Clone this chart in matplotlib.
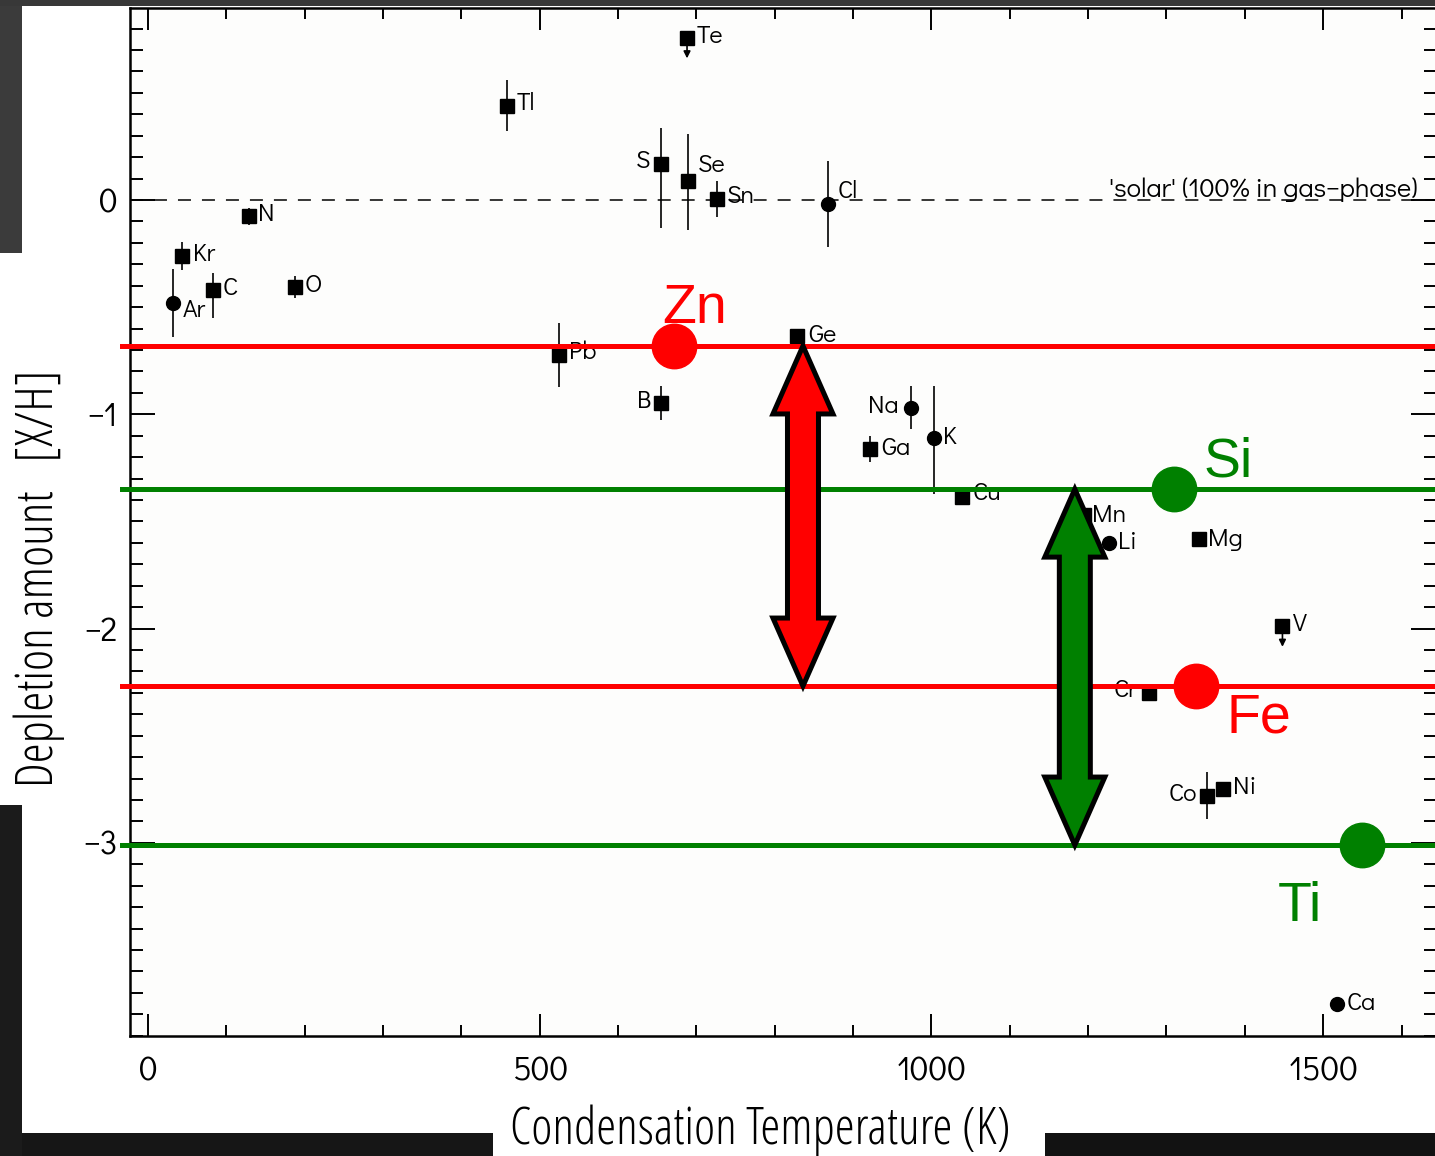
import matplotlib
matplotlib.use("Agg")
import matplotlib.pyplot as plt
from matplotlib.patches import Polygon, Rectangle
from matplotlib.ticker import MultipleLocator

# condensation temperature (K) and gas-phase depletion [X/H] per element
elements = ['Ar', 'Kr', 'C', 'N', 'O', 'Tl', 'Te', 'S', 'Se', 'Sn', 'Cl', 'Pb', 'B',
            'Ge', 'Na', 'Ga', 'K', 'Cu', 'Mn', 'Li', 'Mg', 'V', 'Cr', 'Co', 'Ni', 'Ca']
t_cond = [32, 44, 83, 129, 188, 458, 688, 655, 689, 726, 868, 525, 655,
          829, 974, 922, 1003, 1039, 1195, 1226, 1342, 1448, 1278, 1352, 1372, 1517]
depletion = [-0.48, -0.26, -0.42, -0.075, -0.405, 0.44, 0.756, 0.168, 0.089, 0.005, -0.02, -0.724, -0.947,
             -0.635, -0.97, -1.162, -1.11, -1.386, -1.47, -1.60, -1.58, -1.99, -2.30, -2.78, -2.75, -3.75]
err_lo = [0.16, 0.065, 0.13, 0.04, 0.05, 0.12, 0, 0.30, 0.23, 0.085, 0.20, 0.15, 0.08,
          0, 0.10, 0.06, 0.26, 0, 0, 0.03, 0, 0, 0, 0.11, 0, 0.03]
err_hi = [0.16, 0.065, 0.08, 0.04, 0.05, 0.12, 0, 0.17, 0.22, 0.085, 0.20, 0.15, 0.08,
          0, 0.10, 0.06, 0.24, 0, 0, 0.03, 0, 0, 0, 0.11, 0, 0.03]
circle_elems = ['Ar', 'Cl', 'Na', 'K', 'Li', 'Ca']
upper_limits = ['Te', 'V']

# highlighted elements and their levels
hl_names = ['Zn', 'Fe', 'Si', 'Ti']
hl_t = [671, 1338, 1309, 1550]
hl_depl = [-0.681, -2.268, -1.349, -3.01]
# double arrows between level pairs, at these temperatures
arrow_pairs = [('Zn', 'Fe'), ('Si', 'Ti')]
arrow_t = [836, 1183]

hl_color = {'Zn': 'red', 'Fe': 'red', 'Si': 'green', 'Ti': 'green'}
# label offsets in pixels (dx, dy)
hl_off = {'Zn': (-11, 23), 'Fe': (30, -46), 'Si': (30, 13), 'Ti': (-85, -76)}
lab_off = {'Ar': (10, -14), 'Kr': (11, -5), 'C': (10, -5), 'N': (9, -5), 'O': (9, -5),
           'Tl': (10, -4), 'Te': (10, -5), 'S': (-11, -4), 'Se': (10, 9), 'Sn': (10, -4),
           'Cl': (10, 6), 'Pb': (10, -4), 'B': (-10, -5), 'Ge': (11, -6), 'Na': (-12, -5),
           'Ga': (11, -6), 'K': (9, -6), 'Cu': (11, -3), 'Mn': (8, -7), 'Li': (9, -6),
           'Mg': (9, -7), 'V': (11, -5), 'Cr': (-12, -4), 'Co': (-10, -5), 'Ni': (10, -5),
           'Ca': (10, -6)}
left_labels = ['S', 'B', 'Na', 'Cr', 'Co']

W, H = 1435, 1156
PT = 72 / 100  # pixels -> points

scan_font = ['Didact Gothic', 'DejaVu Sans']
title_font = dict(family=['Open Sans', 'DejaVu Sans'], fontstretch='condensed', fontweight='light')

fig = plt.figure(figsize=(W / 100, H / 100), dpi=100)
fig.patch.set_facecolor('white')

# dark frame pieces around the slide
for (x0, y0, w, h, c) in [(0, 0, W, 6, '#383838'),
                          (0, 6, 22, 247, '#3b3b3b'),
                          (0, 805, 22, 351, '#1b1b1b'),
                          (22, 1133, 471, 23, '#161616'),
                          (1045, 1133, 390, 23, '#121212')]:
    fig.add_artist(Rectangle((x0 / W, (H - y0 - h) / H), w / W, h / H,
                             transform=fig.transFigure, color=c, lw=0, zorder=0))

ax = fig.add_axes([130 / W, 120 / H, 1306 / W, 1028 / H])
ax.set_facecolor('#fdfdfc')
ax.set_xlim(-23, 1644)
ax.set_ylim(-3.901, 0.896)
for s in ax.spines.values():
    s.set_linewidth(1.8)

ax.set_xticks([0, 500, 1000, 1500])
ax.xaxis.set_minor_locator(MultipleLocator(100))
ax.set_yticks([0, -1, -2, -3])
ax.yaxis.set_minor_locator(MultipleLocator(0.1))
ax.tick_params(which='both', direction='in', top=True, right=True, width=1.4, labelsize=24)
ax.tick_params(axis='y', which='major', length=18, pad=9)
ax.tick_params(axis='y', which='minor', length=9)
ax.tick_params(axis='x', which='major', length=16, pad=15)
ax.tick_params(axis='x', which='minor', length=8)
for lab in ax.get_xticklabels() + ax.get_yticklabels():
    lab.set_family(scan_font)

# solar reference
ax.axhline(0, color='black', lw=1.1, ls=(0, (8.5, 7.2)), zorder=2)
ax.annotate("'solar' (100% in gas\u2212phase)", xy=(1620, 0), xytext=(0, 2),
            textcoords='offset points', ha='right', va='baseline', fontsize=19.5,
            family=scan_font)

# measured elements
for i, el in enumerate(elements):
    mk = 'o' if el in circle_elems else 's'
    ax.errorbar(t_cond[i], depletion[i], yerr=[[err_lo[i]], [err_hi[i]]], fmt=mk,
                color='black', ms=10, elinewidth=1.2, capsize=0, zorder=3)
    dx, dy = lab_off[el]
    ax.annotate(el, xy=(t_cond[i], depletion[i]), xytext=(dx * PT, dy * PT),
                textcoords='offset points', va='baseline',
                ha='right' if el in left_labels else 'left', fontsize=18,
                family=scan_font, zorder=3)
    if el in upper_limits:
        ax.annotate('', xy=(t_cond[i], depletion[i] - 0.095), xytext=(t_cond[i], depletion[i]),
                    arrowprops=dict(arrowstyle='-|>', color='black', lw=1.2,
                                    mutation_scale=10, shrinkA=0, shrinkB=0), zorder=3)

# highlighted levels
for name, t, d in zip(hl_names, hl_t, hl_depl):
    c = hl_color[name]
    ax.axhline(d, xmin=-0.006, xmax=1.0, color=c, lw=3.6, clip_on=False, zorder=4)
    ax.plot(t, d, 'o', color=c, ms=32, zorder=5)
    dx, dy = hl_off[name]
    ax.annotate(name, xy=(t, d), xytext=(dx * PT, dy * PT), textcoords='offset points',
                ha='left', va='baseline', color=c, fontsize=40,
                family=['Liberation Sans', 'DejaVu Sans'], zorder=7)


def block_arrow(x, y_a, y_b, face):
    # double-headed block arrow, widths in pixels
    cx, top = ax.transData.transform((x, max(y_a, y_b)))
    _, bot = ax.transData.transform((x, min(y_a, y_b)))
    hw, sw, hl = 30, 15.5, 68
    pts = [(cx, top), (cx + hw, top - hl), (cx + sw, top - hl), (cx + sw, bot + hl),
           (cx + hw, bot + hl), (cx, bot), (cx - hw, bot + hl), (cx - sw, bot + hl),
           (cx - sw, top - hl), (cx - hw, top - hl)]
    verts = ax.transData.inverted().transform(pts)
    ax.add_patch(Polygon(verts, closed=True, facecolor=face, edgecolor='black', lw=3.6,
                         joinstyle='miter', clip_on=False, zorder=6))


level = dict(zip(hl_names, hl_depl))
for (a, b), t in zip(arrow_pairs, arrow_t):
    block_arrow(t, level[a], level[b], hl_color[a])

# axis titles
fig.text(760 / W, (H - 1144) / H, 'Condensation Temperature (K)', ha='center',
         va='baseline', fontsize=36.5, **title_font)
fig.text(53 / W, (H - 578) / H, 'Depletion amount   [X/H]', rotation=90,
         rotation_mode='anchor', ha='center', va='baseline', fontsize=36.5, **title_font)

fig.savefig('out.png', dpi=100)
